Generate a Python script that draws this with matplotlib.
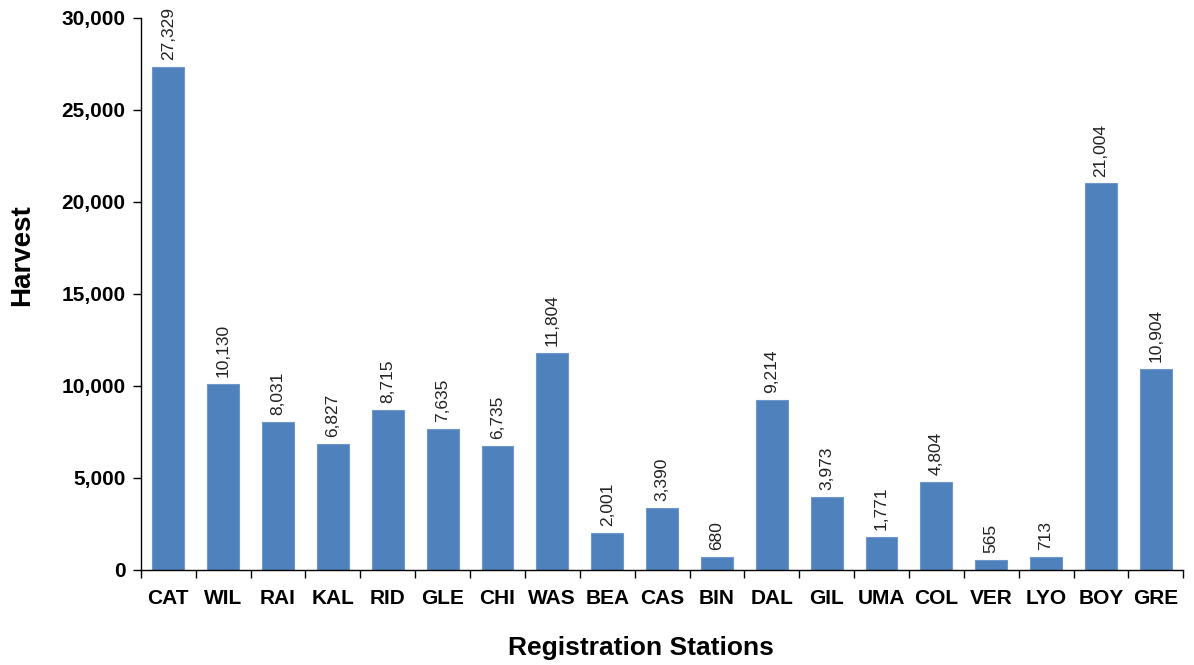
import matplotlib.pyplot as plt
from matplotlib.ticker import FuncFormatter

stations = ["CAT", "WIL", "RAI", "KAL", "RID", "GLE", "CHI", "WAS", "BEA", "CAS",
            "BIN", "DAL", "GIL", "UMA", "COL", "VER", "LYO", "BOY", "GRE"]
harvest = [27329, 10130, 8031, 6827, 8715, 7635, 6735, 11804, 2001, 3390,
           680, 9214, 3973, 1771, 4804, 565, 713, 21004, 10904]

plt.rcParams["font.family"] = ["Liberation Sans", "DejaVu Sans"]

fig = plt.figure(figsize=(11.94, 6.65), dpi=100)
ax = fig.add_axes([0.118, 0.143, 0.873, 0.830])

x = range(len(stations))
bars = ax.bar(x, harvest, width=0.58, color="#4F81BD", edgecolor="#6F97CA", linewidth=0.8)

# value labels above each bar, rotated
for b, v in zip(bars, harvest):
    ax.annotate(f"{v:,}", (b.get_x() + b.get_width() / 2, v),
                xytext=(0, 5), textcoords="offset points",
                rotation=90, ha="center", va="bottom", fontsize=12.5, color="#222222")

ax.set_xlim(-0.5, len(stations) - 0.5)
ax.set_ylim(0, 30000)
ax.set_yticks(range(0, 30001, 5000))
ax.yaxis.set_major_formatter(FuncFormatter(lambda v, p: f"{int(v):,}"))

# category labels centred, ticks between categories
ax.set_xticks(list(x))
ax.set_xticklabels(stations, fontsize=15, fontweight="bold")
ax.set_xticks([i - 0.5 for i in range(len(stations) + 1)], minor=True)
ax.tick_params(axis="x", which="major", length=0, pad=14)
ax.tick_params(axis="x", which="minor", length=6, width=1, direction="out")
ax.tick_params(axis="y", length=6, width=1, direction="out", labelsize=15, pad=5)
for lbl in ax.get_yticklabels():
    lbl.set_fontweight("bold")

for side in ["top", "right"]:
    ax.spines[side].set_visible(False)
ax.spines["left"].set_linewidth(1)
ax.spines["bottom"].set_linewidth(1)

ax.set_ylabel("Harvest", fontsize=20, fontweight="bold")
ax.yaxis.set_label_coords(-0.114, 0.571)
ax.set_xlabel("Registration Stations", fontsize=19, fontweight="bold")
ax.xaxis.set_label_coords(0.48, -0.141)
ax.xaxis.label.set_va("center")
ax.yaxis.label.set_va("center")

fig.savefig("out.png", dpi=100)
